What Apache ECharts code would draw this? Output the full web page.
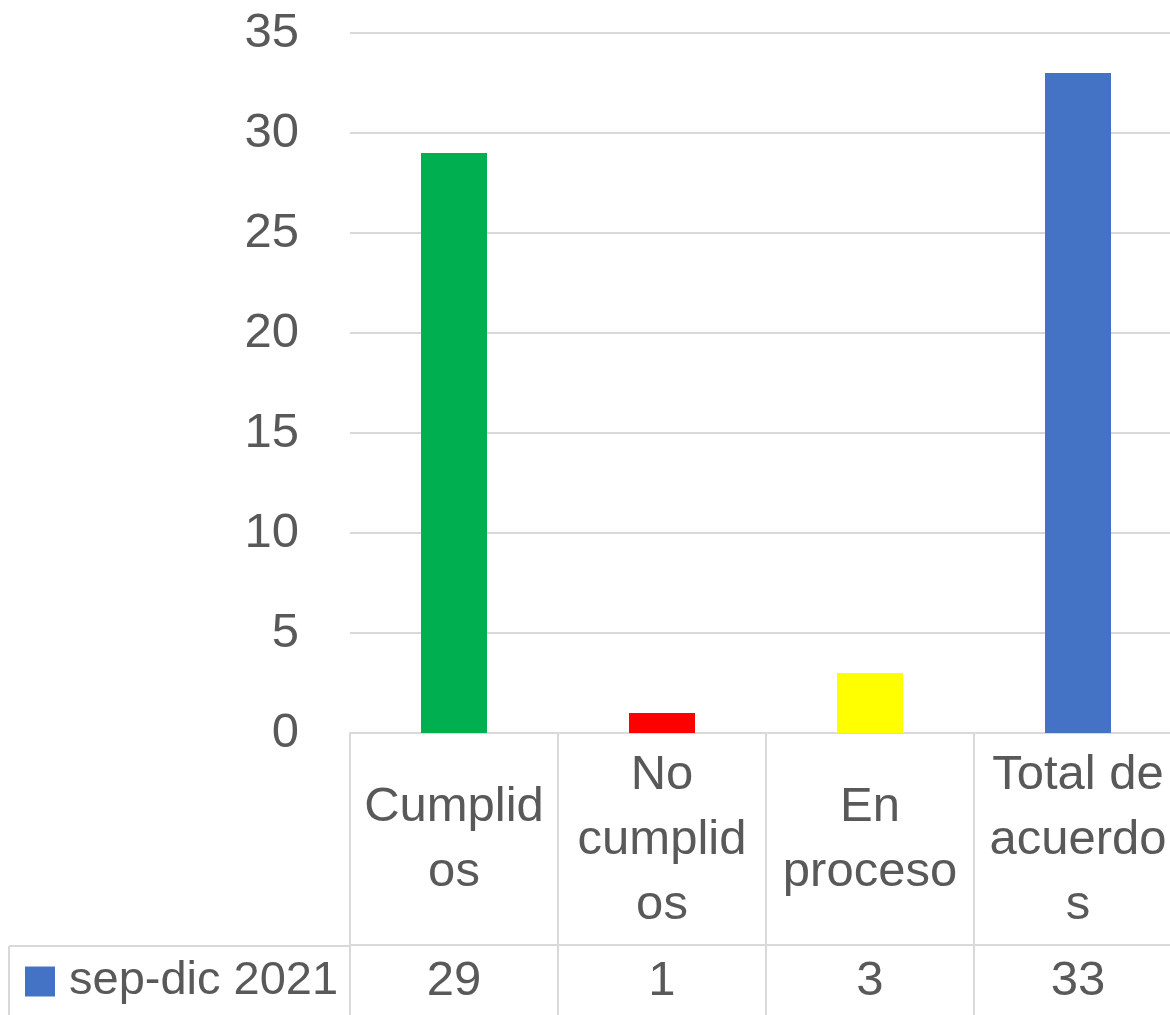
<!DOCTYPE html>
<html>
<head>
<meta charset="utf-8">
<script src="https://cdn.jsdelivr.net/npm/echarts@6/dist/echarts.min.js"></script>
<style>
  html, body { margin: 0; padding: 0; background: #fff; }
  #chart { width: 1170px; height: 1015px; }
</style>
</head>
<body>
<div id="chart"></div>
<script>
// datos del gráfico
var categories = ['Cumplidos', 'No cumplidos', 'En proceso', 'Total de acuerdos']
// etiquetas tal como las corta Excel
var categoryLabels = ['Cumplid\nos', 'No\ncumplid\nos', 'En\nproceso', 'Total de\nacuerdo\ns']
var seriesName = 'sep-dic 2021'
var values = [29, 1, 3, 33]
var yTicks = [0, 5, 10, 15, 20, 25, 30, 35]

var barColors = ['#00B050', '#FF0000', '#FFFF00', '#4472C4']
var textColor = '#595959'
var lineColor = '#D9D9D9'
var font = 'Liberation Sans'

var chart = echarts.init(document.getElementById('chart'))

chart.setOption({
  animation: false,
  textStyle: { fontFamily: font },
  grid: { left: 350, top: 33, right: -12, bottom: 282, outerBoundsMode: 'none', containLabel: false },
  legend: {
    data: [seriesName],
    left: 20,
    top: 953,
    padding: 5,
    icon: 'rect',
    itemWidth: 30,
    itemHeight: 30,
    selectedMode: false,
    textStyle: { fontSize: 47, color: textColor, fontFamily: font, padding: [0, 0, 0, 9] }
  },
  xAxis: [
    {
      type: 'category',
      data: categories,
      position: 'bottom',
      axisLine: { show: true, lineStyle: { color: lineColor, width: 2 } },
      axisTick: { show: true, alignWithLabel: false, length: 300, lineStyle: { color: lineColor, width: 2 } },
      axisLabel: {
        interval: 0,
        margin: 107,
        verticalAlign: 'middle',
        fontSize: 49,
        lineHeight: 65,
        color: textColor,
        fontFamily: font,
        formatter: function (v, i) { return categoryLabels[i] }
      }
    },
    {
      // fila de la tabla de datos
      type: 'category',
      data: categories,
      position: 'bottom',
      offset: 212,
      axisLine: { show: true, lineStyle: { color: lineColor, width: 2 } },
      axisTick: { show: false },
      axisLabel: {
        interval: 0,
        margin: 36,
        verticalAlign: 'middle',
        fontSize: 49,
        color: textColor,
        fontFamily: font,
        formatter: function (v, i) { return String(values[i]) }
      }
    }
  ],
  yAxis: {
    type: 'value',
    min: yTicks[0],
    max: yTicks[yTicks.length - 1],
    interval: 5,
    axisLine: { show: false },
    axisTick: { show: false },
    splitLine: { lineStyle: { color: lineColor, width: 2 } },
    axisLabel: { margin: 51, fontSize: 49, color: textColor, fontFamily: font }
  },
  series: [
    {
      name: seriesName,
      type: 'bar',
      barWidth: 66,
      itemStyle: { color: '#4472C4' },
      data: values.map(function (v, i) {
        return { value: v, itemStyle: { color: barColors[i] } }
      })
    }
  ],
  graphic: [
    // borde de la celda de la leyenda
    { type: 'line', shape: { x1: 9, y1: 946, x2: 350, y2: 946 }, style: { stroke: lineColor, lineWidth: 2 } },
    { type: 'line', shape: { x1: 9, y1: 946, x2: 9, y2: 1015 }, style: { stroke: lineColor, lineWidth: 2 } }
  ]
})
</script>
</body>
</html>
